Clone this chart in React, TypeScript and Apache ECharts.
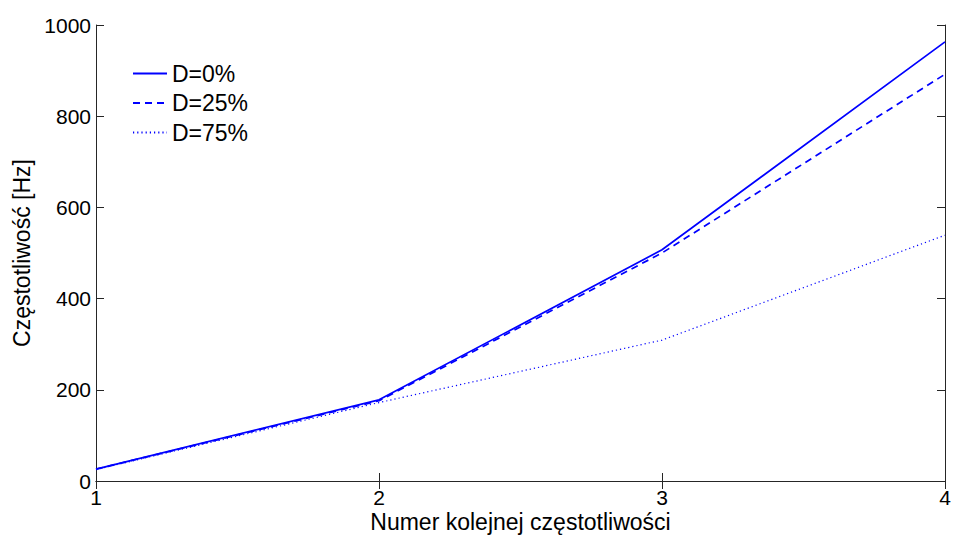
import React, { useEffect, useRef } from "react";
import * as echarts from "echarts";

const xValues = [1, 2, 3, 4];
const d0 = [26, 178, 507, 963];
const d25 = [26, 176, 500, 892];
const d75 = [25, 172, 309, 539];
const seriesNames = ["D=0%", "D=25%", "D=75%"];
const yTicks = [0, 200, 400, 600, 800, 1000];

const FONT = "'Liberation Sans', Arial, sans-serif";
const BLUE = "#0000ff";

export default function App() {
  const ref = useRef<HTMLDivElement>(null);
  useEffect(() => {
    const chart = echarts.init(ref.current!, null, { renderer: "svg" });
    const pair = (ys: number[]) => xValues.map((x, i) => [x, ys[i]]);
    const axisCommon = {
      type: "value" as const,
      axisLine: { show: true, lineStyle: { color: "#262626", width: 1 } },
      axisTick: { show: true, inside: true, length: 8, lineStyle: { color: "#262626" } },
      splitLine: { show: false },
    };
    chart.setOption({
      animation: false,
      backgroundColor: "#ffffff",
      textStyle: { fontFamily: FONT },
      grid: {
        left: 96,
        top: 25,
        right: 8,
        bottom: 55,
        containLabel: false,
        outerBoundsMode: "none",
      },
      legend: {
        left: 132,
        top: 62,
        padding: 0,
        orient: "vertical",
        itemWidth: 34,
        itemHeight: 14,
        itemGap: 6.5,
        itemStyle: { opacity: 0 },
        textStyle: { fontFamily: FONT, fontSize: 23, lineHeight: 23, color: "#000" },
        data: seriesNames,
      },
      xAxis: [
        {
          ...axisCommon,
          min: 1,
          max: 4,
          interval: 1,
          name: "Numer kolejnej częstotliwości",
          nameLocation: "middle",
          nameGap: 29,
          nameMoveOverlap: false,
          nameTextStyle: { fontFamily: FONT, fontSize: 23, lineHeight: 23, color: "#000" },
          axisLabel: { fontFamily: FONT, fontSize: 21, lineHeight: 21, color: "#000", margin: 6 },
        },
        {
          ...axisCommon,
          position: "top",
          min: 1,
          max: 4,
          interval: 1,
          axisLabel: { show: false },
        },
      ],
      yAxis: [
        {
          ...axisCommon,
          min: 0,
          max: 1000,
          interval: 200,
          name: "Częstotliwość [Hz]",
          nameLocation: "middle",
          nameGap: 63,
          nameMoveOverlap: false,
          nameTextStyle: { fontFamily: FONT, fontSize: 23, color: "#000" },
          axisLabel: {
            fontFamily: FONT,
            fontSize: 21,
            color: "#000",
            margin: 5,
            formatter: (v: number) => (yTicks.includes(v) ? String(v) : ""),
          },
        },
        {
          ...axisCommon,
          position: "right",
          min: 0,
          max: 1000,
          interval: 200,
          axisLabel: { show: false },
        },
      ],
      series: [
        {
          name: seriesNames[0],
          type: "line",
          data: pair(d0),
          symbol: "none",
          lineStyle: { color: BLUE, width: 1.7, type: "solid" },
          itemStyle: { color: BLUE },
        },
        {
          name: seriesNames[1],
          type: "line",
          data: pair(d25),
          symbol: "none",
          lineStyle: { color: BLUE, width: 1.7, type: [7, 5] },
          itemStyle: { color: BLUE },
        },
        {
          name: seriesNames[2],
          type: "line",
          data: pair(d75),
          symbol: "none",
          lineStyle: { color: BLUE, width: 1.2, type: [1.2, 3] },
          itemStyle: { color: BLUE },
        },
      ],
    });
    return () => chart.dispose();
  }, []);
  return <div ref={ref} style={{ width: 953, height: 536, position: "absolute", left: 0, top: 0 }} />;
}
